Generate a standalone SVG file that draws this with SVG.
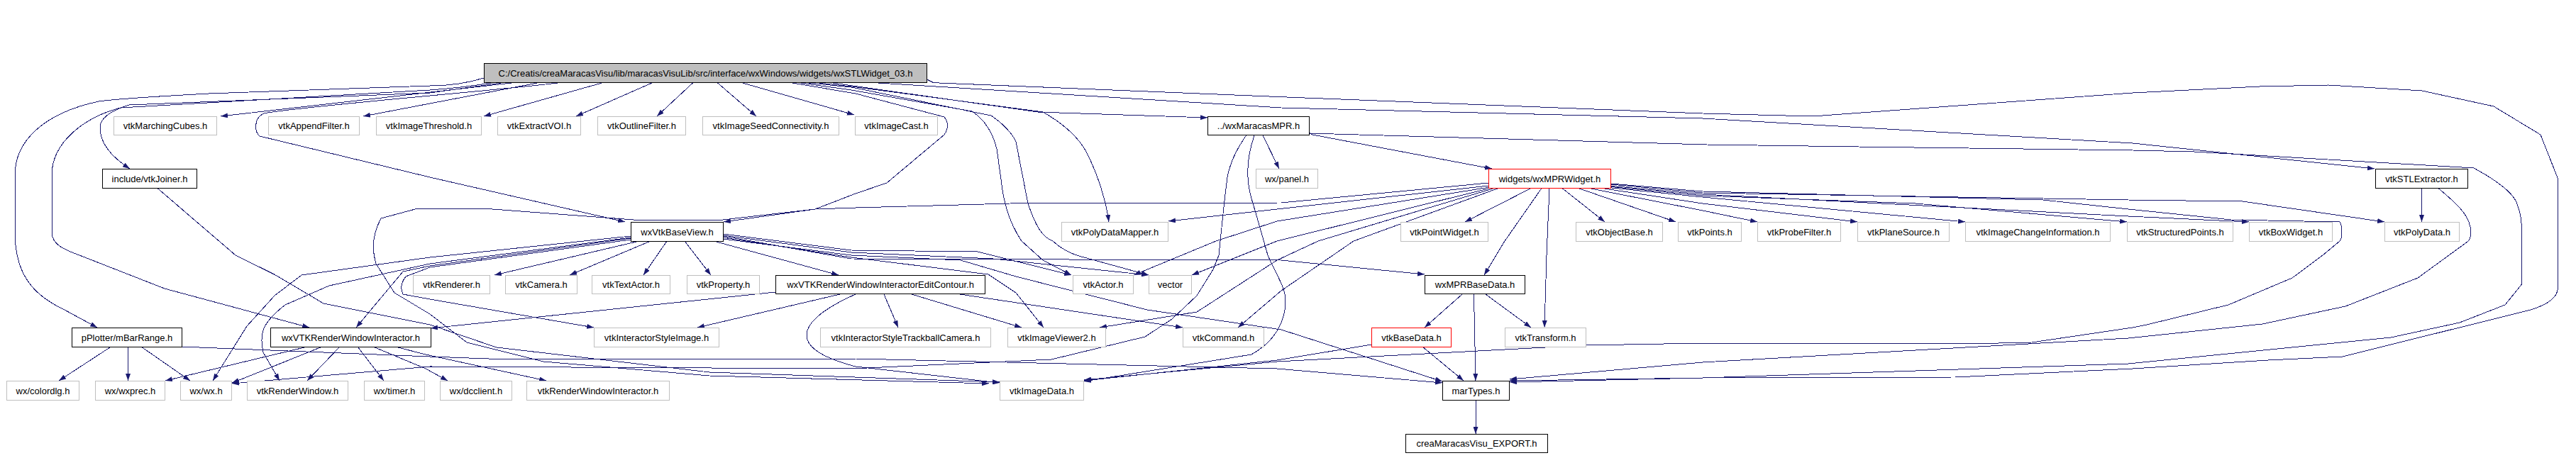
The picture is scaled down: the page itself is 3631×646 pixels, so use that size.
<svg xmlns="http://www.w3.org/2000/svg" width="3631" height="646" viewBox="0 0 3631 646">
<style>
rect{fill:#ffffff;stroke:#bfbfbf;stroke-width:1}
.b rect{stroke:#000000}
.r rect{stroke:#ff0000}
.root rect{fill:#bfbfbf;stroke:#000000}
text{font-family:"Liberation Sans",Arial,sans-serif;font-size:13px;fill:#000000;text-anchor:middle}
#edges path{fill:none;stroke:#191970;stroke-width:1;marker-end:url(#a);shape-rendering:crispEdges}
</style>
<defs>
<marker id="a" viewBox="0 0 10 7" refX="10" refY="3.5" markerWidth="10" markerHeight="7" markerUnits="userSpaceOnUse" orient="auto"><path d="M0,0L10,3.5L0,7z" fill="#191970"/></marker>
</defs>
<rect x="0" y="0" width="3631" height="646" style="fill:#ffffff;stroke:none"/>
<g id="edges">
<path d="M682,110 C650,120 620,121 606,121 L294,132 C220,136 160,140 139,143 C60,160 21,200 21,247 L21,327 C21,385 45,415 89,436 L137,462"/>
<path d="M695,116.5 C650,124 620,126 606,127 L170,152 C120,165 73,200 73,247 L73,327 C73,345 90,352 112,360 L232,407 L436,462"/>
<path d="M710,116.5 L606,131 L182,148 C150,158 141,170 141,180 C141,200 155,220 183,238"/>
<path d="M725,116.5 L311,164"/>
<path d="M760,116.5 L512,164"/>
<path d="M790,116.5 C700,128 420,150 372,160 C358,166 358,185 366,192 L606,250 L881,313"/>
<path d="M850,116.5 L682,164"/>
<path d="M920,116.5 L812,164"/>
<path d="M977,116.5 L926,164"/>
<path d="M1011,116.5 L1066,164"/>
<path d="M1045,116.5 L1204,162"/>
<path d="M1114,116.5 L1206,132 L1331,165 Q1340,177 1331,190 L1250,258 L1206,273 L1149,295 L1019,310 L893,310 L681,294 L589,294 L537,308 Q520,340 530,372 L556,413 L606,443 L658,483 L766,510 L1000,530 L1394,541"/>
<path d="M1170,116.5 L1463,158 L1702,166"/>
<path d="M1230,116.5 L1806,152 L2400,167 L3006,202 L3347,238"/>
<path d="M1306,111.7 L1316,116.7 L1806,136.7 L2400,160 L2555,164 L3006,131 L3185,122 L3282,120 L3414,128 L3515,150 L3581,190 L3605.5,252 L3605.5,406 C3605,420 3590,430 3567,437 L3302,503 L3197,508 L3006,520 L2756,532 L2400,533 L2128,539"/>
<path d="M1150,116.5 L1200,122 L1470,158 C1500,175 1520,195 1530,212 C1550,250 1560,290 1563,313"/>
<path d="M1125,116.5 L1200,127 L1370,157 C1390,170 1400,190 1405,210 L1411,253 C1414,280 1420,310 1440,340 L1470,367 L1510,388"/>
<path d="M1135,116.5 L1200,123 L1397,163 C1415,175 1428,190 1432,200 L1449,287 C1460,320 1470,335 1484,340 C1500,355 1515,360 1528,363 L1619,388"/>
<path d="M1780,191 L1803,238"/>
<path d="M1845,187 L1850,190 L2103,238"/>
<path d="M1756.5,191 C1740,215 1733,233 1730,250 C1726,280 1722,320 1718,360 L1710,380 L1687,417 L1652,450 L1614,475 L1482,507 L1200,520 L606,517 L327,541"/>
<path d="M1768,191 C1760,215 1758,235 1759,250 C1760,270 1764,280 1770,300 L1787,360 C1800,390 1812,405 1812,425 C1812,450 1800,480 1764,500 L1528,538"/>
<path d="M1845,188 L2406,204 L2620,207 L3006,212 L3093,214 L3487,237 C3520,255 3540,270 3547,285 C3553,300 3554.5,310 3554.5,330 L3554.5,401 L3531,430 L3467,455 L3370,476 L3000,513 L2400,533 L2128,537"/>
<path d="M2098,258 L1806,286 L1424,287 L1206,293 L1149,295 L1020,313"/>
<path d="M2098,262 L1800,295 L1647,312"/>
<path d="M2100,264 L1800,312 L1714,340 L1598,388"/>
<path d="M2102,265 L1800,340 L1680,388"/>
<path d="M2106,265.5 L1858,340 L1800,367 L1687,440 L1550,462"/>
<path d="M2112,265.5 L1908,340 L1806,410 L1745,462"/>
<path d="M2158,265.5 L2065,313"/>
<path d="M2173,265.5 L2121,340 L2092,388"/>
<path d="M2184,265.5 L2180,360 L2177,462"/>
<path d="M2202,265.5 L2262,313"/>
<path d="M2225,265.5 L2362,313"/>
<path d="M2240,265.5 L2400,297 L2477,313"/>
<path d="M2255,265 L2400,287 L2618,313"/>
<path d="M2262,264 L2400,278 L2770,313"/>
<path d="M2266,263 L2400,276 L2700,287 L2998,313"/>
<path d="M2268,262 L2400,274 L3000,305 L3170,313"/>
<path d="M2270,260 L2400,272 L3000,282 L3161,284 L3361,313"/>
<path d="M2270,259 L2400,270 L2880,282 L3000,295 L3145,310 L3298,313 C3302,320 3302,335 3298,340 L3274,360 L3231,392 L3141,430 L3026,458 L3006,462 L2864,483 L2771,485 L2400,484 L2235,487 L1800,510 L1528,536"/>
<path d="M3413.5,265.5 L3413.5,313"/>
<path d="M3437,265.5 C3460,285 3478,300 3482,320 C3484,332 3482,338 3478,341 L3408,392 L3306,432 L3189,457 L3000,477 L2400,511 L2128,535"/>
<path d="M901,340 L697,388"/>
<path d="M917,340 L803,388"/>
<path d="M940,340 L907,388"/>
<path d="M965,340 L1002,388"/>
<path d="M1006,340 L1182,388"/>
<path d="M889,333 L606,363 L425,388 L387,417 L348,460 L300,537"/>
<path d="M889,335 L606,372 L464,403 L402,430 C370,455 365,470 371,497 L394,537"/>
<path d="M889,336 L606,375 L568,383 L502,462"/>
<path d="M889,338 L606,377 L572,390 Q562,403 568,415 L606,422 L837,462"/>
<path d="M1019,330 L1200,353 L1378,355 L1510,388"/>
<path d="M1019,332 L1200,356 L1400,365 L1619,388"/>
<path d="M1019,333 L1200,365 L1806,367 L2008,387"/>
<path d="M1019,335 L1200,363 L1393,387 L1432,413 L1471,462"/>
<path d="M1019,337 L1200,360 L1354,367 L1432,390 L1617,437 L1806,465 L2033,538"/>
<path d="M1093,412 L607,463"/>
<path d="M1184,415 L983,462"/>
<path d="M1246,415 L1266,462"/>
<path d="M1285,415 L1440,462"/>
<path d="M1353,415 L1667,462"/>
<path d="M1206,415 C1150,440 1137,460 1137,473 C1137,490 1160,505 1206,517 L1409,540"/>
<path d="M2061,415 L2008,462"/>
<path d="M2077.5,415 L2080,537"/>
<path d="M2094,415 L2158,462"/>
<path d="M1933,486 L1800,508 L1528,537"/>
<path d="M2005,489 L2063,537"/>
<path d="M2080,564 L2080,612"/>
<path d="M156.5,489 L83,537"/>
<path d="M180.5,489 L180.5,537"/>
<path d="M199,489 L268,537"/>
<path d="M256,489 L606,503 L689,506 L1206,506 L1800,520 L2033,540"/>
<path d="M433,489 L233,537"/>
<path d="M454,489 L340,535 L327,540"/>
<path d="M479,489 L433,537"/>
<path d="M504,489 L541,537"/>
<path d="M526,489 L600,520 L631,537"/>
<path d="M557,489 L600,500 L770,537"/>
<path d="M222,265.5 L332,360 L386.6,387 L456,428 L606,458 L700,490 L1000,525 L1409,539"/>
</g>
<g id="root" class="root"><rect x="682.5" y="89.5" width="624" height="27"/><text x="994.5" y="107.5">C:/Creatis/creaMaracasVisu/lib/maracasVisuLib/src/interface/wxWindows/widgets/wxSTLWidget_03.h</text></g>
<g id="n_marching"><rect x="160.5" y="164.5" width="145" height="26"/><text x="233" y="182">vtkMarchingCubes.h</text></g>
<g id="n_append"><rect x="378.5" y="164.5" width="128" height="26"/><text x="442.5" y="182">vtkAppendFilter.h</text></g>
<g id="n_threshold"><rect x="530.5" y="164.5" width="148" height="26"/><text x="604.5" y="182">vtkImageThreshold.h</text></g>
<g id="n_extractvoi"><rect x="701.5" y="164.5" width="117" height="26"/><text x="760" y="182">vtkExtractVOI.h</text></g>
<g id="n_outline"><rect x="842.5" y="164.5" width="124" height="26"/><text x="904.5" y="182">vtkOutlineFilter.h</text></g>
<g id="n_seed"><rect x="990.5" y="164.5" width="192" height="26"/><text x="1086.5" y="182">vtkImageSeedConnectivity.h</text></g>
<g id="n_cast"><rect x="1205.5" y="164.5" width="116" height="26"/><text x="1263.5" y="182">vtkImageCast.h</text></g>
<g id="n_maracasmpr" class="b"><rect x="1702.5" y="164.5" width="143" height="26"/><text x="1774" y="182">../wxMaracasMPR.h</text></g>
<g id="n_joiner" class="b"><rect x="144.5" y="238.5" width="133" height="27"/><text x="211" y="256.5">include/vtkJoiner.h</text></g>
<g id="n_panel"><rect x="1770.5" y="238.5" width="87" height="27"/><text x="1814" y="256.5">wx/panel.h</text></g>
<g id="n_mprwidget" class="r"><rect x="2098.5" y="238.5" width="172" height="27"/><text x="2184.5" y="256.5">widgets/wxMPRWidget.h</text></g>
<g id="n_stlextractor" class="b"><rect x="3348.5" y="238.5" width="130" height="27"/><text x="3413.5" y="256.5">vtkSTLExtractor.h</text></g>
<g id="n_baseview" class="b"><rect x="889.5" y="313.5" width="130" height="27"/><text x="954.5" y="331.5">wxVtkBaseView.h</text></g>
<g id="n_polydatamapper"><rect x="1496.5" y="313.5" width="150" height="27"/><text x="1571.5" y="331.5">vtkPolyDataMapper.h</text></g>
<g id="n_pointwidget"><rect x="1974.5" y="313.5" width="123" height="27"/><text x="2036" y="331.5">vtkPointWidget.h</text></g>
<g id="n_objectbase"><rect x="2221.5" y="313.5" width="122" height="27"/><text x="2282.5" y="331.5">vtkObjectBase.h</text></g>
<g id="n_points"><rect x="2365.5" y="313.5" width="89" height="27"/><text x="2410" y="331.5">vtkPoints.h</text></g>
<g id="n_probe"><rect x="2477.5" y="313.5" width="117" height="27"/><text x="2536" y="331.5">vtkProbeFilter.h</text></g>
<g id="n_plane"><rect x="2618.5" y="313.5" width="129" height="27"/><text x="2683" y="331.5">vtkPlaneSource.h</text></g>
<g id="n_changeinfo"><rect x="2770.5" y="313.5" width="204" height="27"/><text x="2872.5" y="331.5">vtkImageChangeInformation.h</text></g>
<g id="n_structpts"><rect x="2998.5" y="313.5" width="149" height="27"/><text x="3073" y="331.5">vtkStructuredPoints.h</text></g>
<g id="n_boxwidget"><rect x="3170.5" y="313.5" width="117" height="27"/><text x="3229" y="331.5">vtkBoxWidget.h</text></g>
<g id="n_polydata"><rect x="3361.5" y="313.5" width="105" height="27"/><text x="3414" y="331.5">vtkPolyData.h</text></g>
<g id="n_renderer"><rect x="582.5" y="388.5" width="108" height="26"/><text x="636.5" y="406">vtkRenderer.h</text></g>
<g id="n_camera"><rect x="712.5" y="388.5" width="101" height="26"/><text x="763" y="406">vtkCamera.h</text></g>
<g id="n_textactor"><rect x="834.5" y="388.5" width="110" height="26"/><text x="889.5" y="406">vtkTextActor.h</text></g>
<g id="n_property"><rect x="968.5" y="388.5" width="102" height="26"/><text x="1019.5" y="406">vtkProperty.h</text></g>
<g id="n_editcontour" class="b"><rect x="1093.5" y="388.5" width="295" height="26"/><text x="1241" y="406">wxVTKRenderWindowInteractorEditContour.h</text></g>
<g id="n_actor"><rect x="1512.5" y="388.5" width="85" height="26"/><text x="1555" y="406">vtkActor.h</text></g>
<g id="n_vector"><rect x="1619.5" y="388.5" width="60" height="26"/><text x="1649.5" y="406">vector</text></g>
<g id="n_mprbasedata" class="b"><rect x="2008.5" y="388.5" width="141" height="26"/><text x="2079" y="406">wxMPRBaseData.h</text></g>
<g id="n_mbarrange" class="b"><rect x="101.5" y="462.5" width="155" height="27"/><text x="179" y="480.5">pPlotter/mBarRange.h</text></g>
<g id="n_rwi" class="b"><rect x="381.5" y="462.5" width="226" height="27"/><text x="494.5" y="480.5">wxVTKRenderWindowInteractor.h</text></g>
<g id="n_styleimage"><rect x="837.5" y="462.5" width="176" height="27"/><text x="925.5" y="480.5">vtkInteractorStyleImage.h</text></g>
<g id="n_trackball"><rect x="1156.5" y="462.5" width="240" height="27"/><text x="1276.5" y="480.5">vtkInteractorStyleTrackballCamera.h</text></g>
<g id="n_viewer2"><rect x="1420.5" y="462.5" width="138" height="27"/><text x="1489.5" y="480.5">vtkImageViewer2.h</text></g>
<g id="n_command"><rect x="1667.5" y="462.5" width="114" height="27"/><text x="1724.5" y="480.5">vtkCommand.h</text></g>
<g id="n_basedata" class="r"><rect x="1933.5" y="462.5" width="112" height="27"/><text x="1989.5" y="480.5">vtkBaseData.h</text></g>
<g id="n_transform"><rect x="2121.5" y="462.5" width="114" height="27"/><text x="2178.5" y="480.5">vtkTransform.h</text></g>
<g id="n_colordlg"><rect x="9.5" y="537.5" width="102" height="27"/><text x="60.5" y="555.5">wx/colordlg.h</text></g>
<g id="n_wxprec"><rect x="134.5" y="537.5" width="98" height="27"/><text x="183.5" y="555.5">wx/wxprec.h</text></g>
<g id="n_wxwx"><rect x="254.5" y="537.5" width="72" height="27"/><text x="290.5" y="555.5">wx/wx.h</text></g>
<g id="n_renderwindow"><rect x="348.5" y="537.5" width="142" height="27"/><text x="419.5" y="555.5">vtkRenderWindow.h</text></g>
<g id="n_timer"><rect x="513.5" y="537.5" width="85" height="27"/><text x="556" y="555.5">wx/timer.h</text></g>
<g id="n_dcclient"><rect x="620.5" y="537.5" width="101" height="27"/><text x="671" y="555.5">wx/dcclient.h</text></g>
<g id="n_rwinteractor"><rect x="742.5" y="537.5" width="201" height="27"/><text x="843" y="555.5">vtkRenderWindowInteractor.h</text></g>
<g id="n_imagedata"><rect x="1409.5" y="537.5" width="118" height="27"/><text x="1468.5" y="555.5">vtkImageData.h</text></g>
<g id="n_martypes" class="b"><rect x="2033.5" y="537.5" width="94" height="27"/><text x="2080.5" y="555.5">marTypes.h</text></g>
<g id="n_export" class="b"><rect x="1981.5" y="612.5" width="200" height="26"/><text x="2081.5" y="630">creaMaracasVisu_EXPORT.h</text></g>
</svg>
